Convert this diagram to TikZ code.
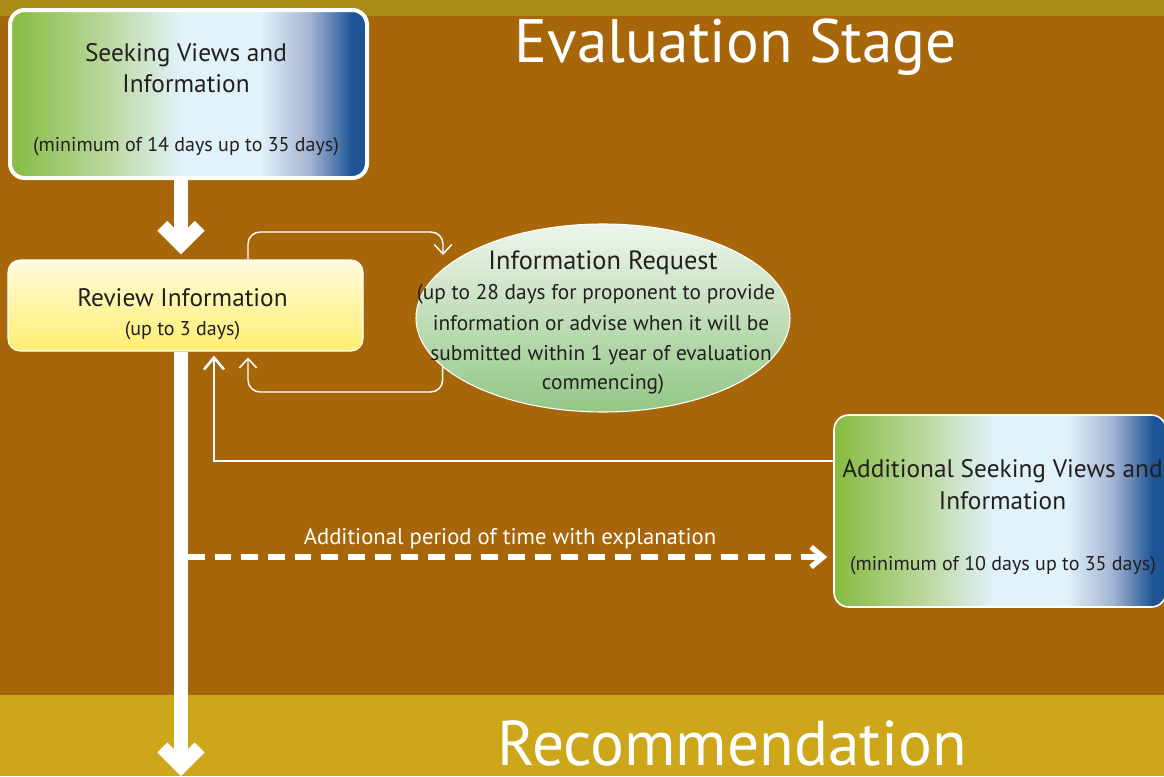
\documentclass[tikz,border=0pt]{standalone}
\usepackage{fontspec}
\setmainfont{PT Sans}
\usetikzlibrary{arrows.meta,shapes.geometric,calc}
\definecolor{bgbrown}{HTML}{A8660A}
\definecolor{topband}{HTML}{A88B14}
\definecolor{botband}{HTML}{CDA719}
\definecolor{txt}{HTML}{231F20}
\definecolor{gA}{HTML}{8ABD47}
\definecolor{gB}{HTML}{C0DBA8}
\definecolor{gC}{HTML}{E0F2FA}
\definecolor{gD}{HTML}{A3B4D2}
\definecolor{gE}{HTML}{1E5496}
\definecolor{eT}{HTML}{EEF5EC}
\definecolor{eB}{HTML}{93C685}
\definecolor{yT}{HTML}{FFFCDD}
\definecolor{yB}{HTML}{FFEE70}
\pgfdeclarehorizontalshading{svshade}{100bp}{color(0bp)=(gA); color(26bp)=(gA); color(40bp)=(gB); color(49bp)=(gC); color(60bp)=(gC); color(67bp)=(gD); color(73bp)=(gE); color(100bp)=(gE)}
\pgfdeclareverticalshading{ellshade}{100bp}{color(0bp)=(eB); color(25bp)=(eB); color(75bp)=(eT); color(100bp)=(eT)}
\pgfdeclareverticalshading{revshade}{100bp}{color(0bp)=(yB); color(25bp)=(yB); color(75bp)=(yT); color(100bp)=(yT)}
\begin{document}
\begin{tikzpicture}[x=0.75pt,y=-0.75pt,
  svbox/.style={draw=white, rounded corners=11pt, shading=svshade, inner sep=0pt},
  revbox/.style={draw=white, line width=0.8pt, rounded corners=9pt, shading=revshade, inner sep=0pt},
  reqell/.style={ellipse, draw=white, line width=0.8pt, shading=ellshade, inner sep=0pt},
  bigtxt/.style={anchor=base, text=txt, inner sep=0pt, font=\fontsize{19}{23}\selectfont},
  smalltxt/.style={anchor=base, text=txt, inner sep=0pt, font=\fontsize{15}{18}\selectfont},
  elltxt/.style={anchor=base, text=txt, inner sep=0pt, font=\fontsize{16}{19}\selectfont},
  titlefont/.style={anchor=base, text=white, inner sep=0pt},
  bigarrow/.style={draw=white, line width=10.5pt, -{Straight Barb[length=14pt, width=28pt]}},
  thinarrow/.style={draw=white, line width=1.1pt, rounded corners=9pt, -{Straight Barb[length=7pt, width=13pt]}},
  medarrow/.style={draw=white, line width=1.9pt, -{Straight Barb[length=9pt, width=15pt]}},
  dasharrow/.style={draw=white, line width=4pt, dash pattern=on 12.5pt off 7.5pt, -{Straight Barb[length=9pt, width=15pt]}}
]
\fill[bgbrown] (0,0) rectangle (1164,776);
\fill[topband] (0,0) rectangle (1164,16);
\fill[botband] (0,695) rectangle (1164,776);
\useasboundingbox (0,0) rectangle (1164,776);

\node[titlefont, font=\fontsize{46}{50}\selectfont] (title) at (736,62) {Evaluation Stage};
\node[titlefont, font=\fontsize{47.5}{50}\selectfont] (recom) at (732,765) {Recommendation};

% Seeking Views box
\node[svbox, line width=3pt, minimum width=357*0.75pt, minimum height=168*0.75pt] (seek) at (188.5,94) {};
\node[bigtxt] (seek1) at (186,61.5) {Seeking Views and};
\node[bigtxt] (seek2) at (186,92.5) {Information};
\node[smalltxt] (seek3) at (186,151.5) {(minimum of 14 days up to 35 days)};

% Review box
\node[revbox, minimum width=355*0.75pt, minimum height=91*0.75pt] (rev) at (185.5,305.5) {};
\node[bigtxt] (rev1) at (182.5,306.5) {Review Information};
\node[smalltxt] (rev2) at (182.5,335) {(up to 3 days)};

% Information request ellipse
\node[reqell, minimum width=374*0.75pt, minimum height=188*0.75pt] (req) at (603,318) {};
\node[bigtxt, font=\fontsize{19.8}{23}\selectfont] (req1) at (603,269.5) {Information Request};
\node[elltxt] (req2) at (596,299.5) {(up to 28 days for proponent to provide};
\node[elltxt] (req3) at (601,330.5) {information or advise when it will be};
\node[elltxt] (req4) at (601,360.5) {submitted within 1 year of evaluation};
\node[elltxt] (req5) at (603,389.5) {commencing)};

% Additional box
\node[svbox, line width=1.2pt, minimum width=332*0.75pt, minimum height=192*0.75pt] (add) at (1000,511) {};
\node[bigtxt] (add1) at (1002.5,477.5) {Additional Seeking Views and};
\node[bigtxt] (add2) at (1002.5,509) {Information};
\node[smalltxt] (add3) at (1003,570.5) {(minimum of 10 days up to 35 days)};

\coordinate (sx) at (181,0);
\coordinate (lx) at (248,0);
\coordinate (ax) at (214,0);
\coordinate (loopT) at (0,232);
\coordinate (loopB) at (0,392);
\coordinate (reqIn) at (443,255);
\coordinate (botEnd) at (181,776);
\coordinate (dstart) at (188,557);

\draw[bigarrow, shorten >=3.75pt] (seek.south -| sx) -- (rev.north -| sx);
\draw[bigarrow] (rev.south -| sx) -- (botEnd);

\draw[thinarrow] (rev.north -| lx) -- (lx |- loopT) -- (reqIn |- loopT) -- (reqIn);
\draw[thinarrow, shorten >=4.5pt] (req.197) -- (req.197 |- loopB) -- (lx |- loopB) -- (rev.south -| lx);

\draw[medarrow, shorten >=3pt] ([yshift=37.5pt]add.west) -| (rev.south -| ax);

\draw[dasharrow, shorten >=4.5pt] (dstart) -- (add.west |- dstart);
\node[titlefont, font=\fontsize{17}{20}\selectfont] (dlabel) at (510,544) {Additional period of time with explanation};
\end{tikzpicture}
\end{document}
